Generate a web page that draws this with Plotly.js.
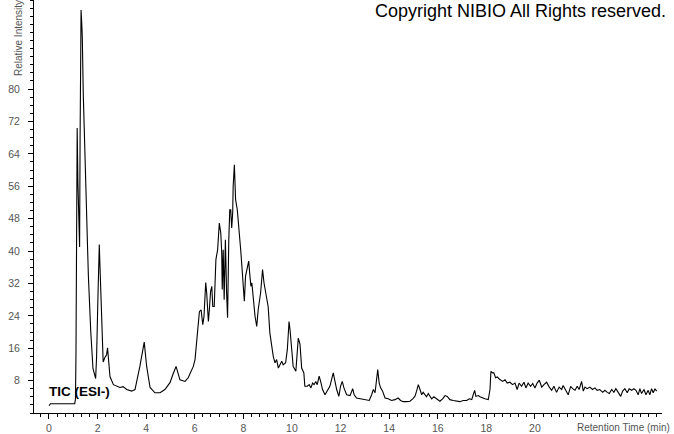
<!DOCTYPE html>
<html>
<head>
<meta charset="utf-8">
<script src="https://cdn.plot.ly/plotly-3.0.1.min.js"></script>
<style>
html, body { margin: 0; padding: 0; background: #ffffff; }
#chart { width: 674px; height: 434px; }
</style>
</head>
<body>
<div id="chart"></div>
<script>
// Retention time (min)
const retentionTime = [
  0.00, 0.06, 1.06, 1.09, 1.11, 1.13, 1.16, 1.19, 1.22, 1.26, 1.28, 1.32, 1.35, 1.37, 1.41, 1.47, 1.53, 1.62, 1.72, 1.81,
  1.92, 1.96, 2.02, 2.07, 2.10, 2.14, 2.19, 2.23, 2.30, 2.37, 2.41, 2.51, 2.65, 2.79, 2.92, 3.05, 3.20, 3.40, 3.54, 3.74,
  3.92, 4.02, 4.16, 4.36, 4.57, 4.77, 4.98, 5.10, 5.23, 5.39, 5.60, 5.73, 5.94, 6.01, 6.10, 6.19, 6.26, 6.33, 6.38, 6.45,
  6.49, 6.56, 6.60, 6.65, 6.70, 6.74, 6.80, 6.84, 6.87, 6.94, 7.01, 7.07, 7.11, 7.13, 7.17, 7.21, 7.26, 7.31, 7.35, 7.40,
  7.44, 7.48, 7.52, 7.56, 7.58, 7.63, 7.68, 7.75, 7.83, 7.89, 7.94, 8.00, 8.04, 8.09, 8.16, 8.22, 8.27, 8.31, 8.35, 8.41,
  8.48, 8.55, 8.61, 8.71, 8.79, 8.85, 8.93, 9.02, 9.09, 9.16, 9.23, 9.30, 9.37, 9.44, 9.51, 9.58, 9.64, 9.74, 9.81, 9.88,
  9.92, 9.99, 10.05, 10.16, 10.22, 10.26, 10.33, 10.40, 10.49, 10.53, 10.63, 10.71, 10.78, 10.85, 10.91, 10.98, 11.04, 11.12, 11.18, 11.26,
  11.36, 11.45, 11.56, 11.70, 11.77, 11.84, 11.93, 12.00, 12.07, 12.14, 12.25, 12.39, 12.50, 12.56, 12.66, 12.80, 12.93, 13.07, 13.18, 13.28,
  13.35, 13.42, 13.49, 13.53, 13.59, 13.65, 13.73, 13.83, 13.96, 14.10, 14.24, 14.37, 14.47, 14.58, 14.72, 14.86, 14.97, 15.06, 15.13, 15.20,
  15.27, 15.34, 15.40, 15.47, 15.54, 15.61, 15.68, 15.75, 15.84, 15.95, 16.09, 16.20, 16.30, 16.39, 16.50, 16.64, 16.78, 16.91, 17.05, 17.19,
  17.30, 17.40, 17.46, 17.52, 17.57, 17.67, 17.74, 17.85, 17.94, 18.08, 18.15, 18.19, 18.26, 18.31, 18.38, 18.45, 18.53, 18.67, 18.77, 18.86,
  18.97, 19.08, 19.18, 19.27, 19.35, 19.45, 19.55, 19.63, 19.72, 19.82, 19.91, 20.00, 20.09, 20.18, 20.28, 20.37, 20.48, 20.59, 20.69, 20.78,
  20.89, 21.00, 21.10, 21.16, 21.28, 21.37, 21.47, 21.55, 21.65, 21.74, 21.82, 21.92, 21.99, 22.06, 22.15, 22.26, 22.37, 22.47, 22.56, 22.67,
  22.79, 22.88, 22.98, 23.06, 23.16, 23.25, 23.33, 23.43, 23.53, 23.61, 23.70, 23.80, 23.88, 23.98, 24.07, 24.16, 24.25, 24.32, 24.39, 24.49,
  24.57, 24.66, 24.73, 24.80, 24.87, 24.94, 25.01
];

// Relative intensity (%)
const relativeIntensity = [
  1.8, 2.3, 2.3, 3.5, 14, 30, 70.4, 57, 48, 41, 68, 99.5, 96, 93, 79, 67, 49, 34, 20, 11,
  8.5, 14, 30, 41.6, 36, 28, 16.5, 12.6, 13.7, 14.4, 16.1, 9, 7, 6.6, 6.3, 6.5, 5.8, 5.4, 5.8, 11.5,
  17.5, 11.5, 6.3, 5.0, 5.0, 5.8, 7.5, 9.5, 11.5, 8.2, 7.8, 8.7, 11.5, 13.2, 20, 25, 25.5, 21.8, 23.9, 32.2,
  29.7, 22.6, 25.5, 30, 31.3, 26.3, 26.3, 33.8, 37.9, 40.3, 46.9, 44.5, 39.5, 30.5, 40.3, 28, 42.8, 29.7, 23.5, 42.8,
  50.2, 50.2, 45.7, 49.4, 56, 61.3, 52.7, 50.2, 45.3, 40.3, 36.2, 28.8, 27.6, 33.8, 36.2, 37.5, 33.8, 31.3, 32.1, 28,
  23.9, 21.4, 25.5, 29.7, 35.4, 32.1, 29.7, 26.3, 19.8, 16.5, 14, 12.4, 13.2, 11.1, 11.9, 12.8, 11.9, 12.4, 15.7, 22.6,
  20.6, 14.8, 11.5, 10.3, 14.8, 18.5, 17, 11.1, 9.9, 6.6, 6.6, 7, 6.2, 7.4, 7, 7.8, 7, 9.1, 7.8, 5.8,
  4.5, 5.4, 6.6, 9.9, 7.8, 5.8, 4.1, 6.6, 7.8, 6.2, 4.5, 4.3, 6, 4.5, 3.7, 3.5, 3.5, 3.3, 3.1, 4.5,
  5.8, 5, 9.1, 10.7, 7.4, 6.2, 5.4, 3.7, 3.5, 3.1, 3.3, 3.7, 3.1, 2.8, 2.8, 2.9, 3.5, 4.1, 5.4, 7,
  5.8, 4.5, 5.1, 4.5, 4, 4.8, 4.1, 3.5, 4, 3.5, 2.9, 3.5, 4.3, 4.1, 3.3, 3.1, 2.9, 2.8, 3.1, 3.1,
  3.5, 3.3, 4.5, 5.6, 4.1, 4.3, 4, 3.7, 3.5, 3.3, 5.8, 10.3, 9.9, 9.9, 8.7, 8.9, 8.4, 7.8, 8.2, 7.4,
  7.6, 7, 7.4, 5.8, 7.4, 6.6, 7.6, 6.2, 7.4, 6.6, 7.3, 6.2, 7.4, 8.1, 6.4, 7, 7.6, 6.4, 5.6, 6.6,
  5.1, 6.4, 5.8, 6.8, 5.4, 4.5, 6.6, 6, 5.6, 6.6, 5.8, 7.8, 5.4, 6.4, 6, 6.4, 5.8, 6.2, 5.6, 5.8,
  5.1, 5.6, 5.1, 4.8, 5.8, 5.1, 6, 5, 4.1, 5.4, 6, 5, 6, 5.6, 6, 5.6, 4.5, 6, 4.8, 5.8,
  4.5, 5.6, 4.5, 6, 5, 6, 5.4
];

const xTickVals = [0, 2, 4, 6, 8, 10, 12, 14, 16, 18, 20];
const yTickVals = [8, 16, 24, 32, 40, 48, 56, 64, 72, 80];

const titleText = 'Copyright NIBIO All Rights reserved.';
const traceLabel = 'TIC (ESI-)';
const xTitle = 'Retention Time (min)';
const yTitle = 'Relative Intensity';

const gray = '#555555';
const tickFont = { family: 'Liberation Sans, Arial, sans-serif', size: 10.5, color: gray };

const trace = {
  x: retentionTime,
  y: relativeIntensity,
  type: 'scatter',
  mode: 'lines',
  line: { color: '#000000', width: 1.1, shape: 'linear' },
  hoverinfo: 'x+y'
};

const layout = {
  width: 674,
  height: 434,
  margin: { l: 34, r: 12, t: 0, b: 21, pad: 0 },
  paper_bgcolor: '#ffffff',
  plot_bgcolor: '#ffffff',
  showlegend: false,
  xaxis: {
    range: [-0.617, 25.23],
    showgrid: false,
    zeroline: false,
    showline: true,
    linecolor: '#000000',
    linewidth: 1,
    ticks: 'outside',
    ticklen: 5,
    tickwidth: 1,
    tickcolor: '#000000',
    tickmode: 'array',
    tickvals: xTickVals,
    ticktext: xTickVals.map(String),
    tickfont: tickFont,
    minor: { dtick: 1 / 3, tick0: 0, ticklen: 3, tickcolor: '#000000', tickwidth: 1, ticks: 'outside', showgrid: false }
  },
  yaxis: {
    range: [0, 102],
    showgrid: false,
    zeroline: false,
    showline: true,
    linecolor: '#000000',
    linewidth: 1,
    ticks: 'outside',
    ticklen: 5,
    tickwidth: 1,
    tickcolor: '#000000',
    tickmode: 'array',
    tickvals: yTickVals,
    ticktext: yTickVals.map(String),
    tickfont: tickFont,
    ticklabelstandoff: 6,
    minor: { dtick: 2, tick0: 0, ticklen: 3, tickcolor: '#000000', tickwidth: 1, ticks: 'outside', showgrid: false }
  },
  annotations: [
    {
      text: titleText,
      xref: 'paper', yref: 'paper',
      x: 1.0096, y: 1, xanchor: 'right', yanchor: 'top', yshift: 1,
      showarrow: false,
      font: { family: 'Liberation Sans, Arial, sans-serif', size: 18, color: '#000000' }
    },
    {
      text: traceLabel,
      xref: 'x', yref: 'y',
      x: -0.095, y: 5.2, xanchor: 'left', yanchor: 'middle',
      showarrow: false,
      font: { family: 'Liberation Sans, Arial, sans-serif', size: 13.5, color: '#000000', weight: 'bold' }
    },
    {
      text: xTitle,
      xref: 'paper', yref: 'paper',
      x: 1.016, y: -0.0363, xanchor: 'right', yanchor: 'middle',
      showarrow: false,
      font: { family: 'Liberation Sans, Arial, sans-serif', size: 10, color: gray }
    },
    {
      text: yTitle,
      xref: 'paper', yref: 'paper',
      x: -0.0255, y: 0.811, xanchor: 'center', yanchor: 'bottom',
      textangle: -90,
      showarrow: false,
      font: { family: 'Liberation Sans, Arial, sans-serif', size: 10, color: gray }
    }
  ]
};

Plotly.newPlot('chart', [trace], layout, { staticPlot: true, displayModeBar: false });
</script>
</body>
</html>
